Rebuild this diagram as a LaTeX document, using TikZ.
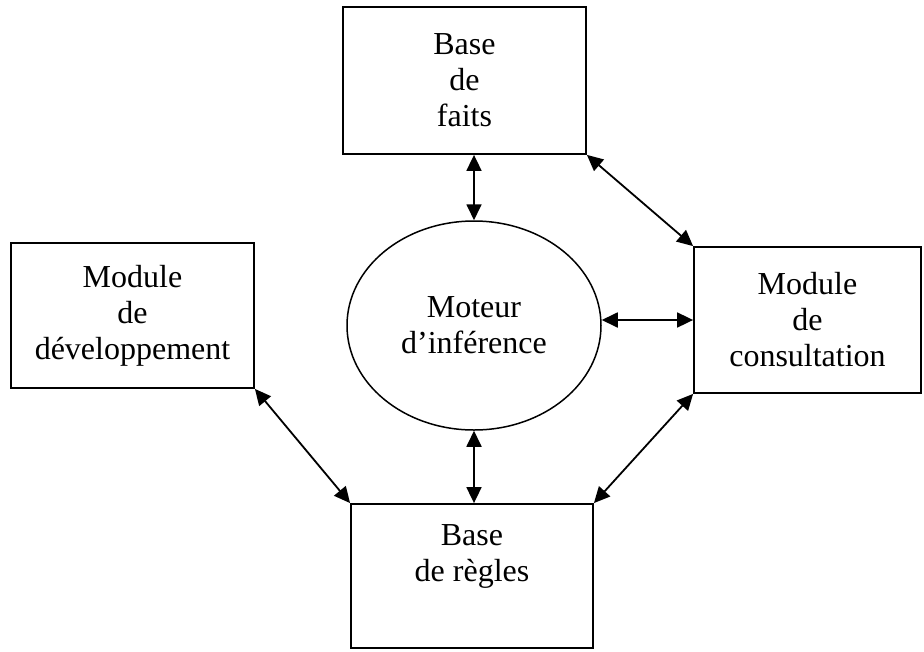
\documentclass[tikz,border=0pt]{standalone}
\usepackage{fontspec}
\setmainfont{Liberation Serif}
\usetikzlibrary{arrows.meta,shapes.geometric}
\begin{document}
\begin{tikzpicture}[x=1pt,y=-1pt,
  every node/.style={font=\fontsize{32}{36}\selectfont, align=center, inner sep=0pt},
  box/.style={draw, line width=1.8pt, rectangle},
  engine/.style={draw, line width=1.5pt, ellipse},
  link/.style={line width=1.8pt,
    {Triangle[length=16pt,width=15pt]}-{Triangle[length=16pt,width=15pt]}}]
\useasboundingbox (0,0) rectangle (924,651);

% knowledge bases, modules and the inference engine
\node[box, minimum width=243pt, minimum height=147pt] (faits) at (464.5,80.5) {Base\\de\\faits};
\node[box, minimum width=243pt, minimum height=145pt] (dev) at (132.5,315.5) {Module\\de\\développement};
\node[box, minimum width=227pt, minimum height=146pt] (cons) at (807.5,320) {Module\\de\\consultation};
\node[box, minimum width=242pt, minimum height=144pt] (regles) at (472,576) {Base\\de règles\\\strut};
\node[engine, minimum width=254pt, minimum height=209pt] (moteur) at (474,325.5) {Moteur\\d’inférence};

% two-way links
\draw[link] (faits.south -| moteur.north) -- (moteur.north);
\draw[link] (faits.south east) -- (cons.north west);
\draw[link] (cons.west -| moteur.east) -- (cons.west);
\draw[link] (moteur.south) -- (moteur.south |- regles.north);
\draw[link] (dev.south east) -- (regles.north west);
\draw[link] (cons.south west) -- (regles.north east);
\end{tikzpicture}
\end{document}
